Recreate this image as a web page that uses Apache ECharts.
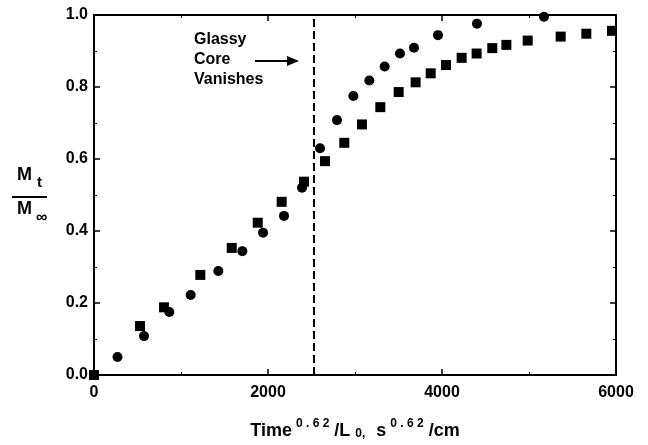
<!DOCTYPE html>
<html>
<head>
<meta charset="utf-8">
<script src="https://cdn.jsdelivr.net/npm/echarts@6/dist/echarts.min.js"></script>
<style>
  html, body { margin: 0; padding: 0; background: #fff; }
  #main { width: 648px; height: 445px; }
</style>
</head>
<body>
<div id="main"></div>
<script>
// circles
var circleX = [270, 575, 866, 1111, 1429, 1705, 1943, 2184, 2391, 2598, 2793, 2981, 3165, 3341, 3517, 3678, 3954, 4402, 5172];
var circleY = [0.05, 0.108, 0.175, 0.222, 0.289, 0.344, 0.395, 0.442, 0.52, 0.63, 0.708, 0.775, 0.818, 0.857, 0.893, 0.909, 0.944, 0.976, 0.995];
// squares
var squareX = [0, 529, 805, 1222, 1583, 1882, 2157, 2414, 2655, 2877, 3080, 3291, 3502, 3697, 3870, 4046, 4226, 4398, 4578, 4740, 4985, 5364, 5659, 5954];
var squareY = [0, 0.136, 0.188, 0.278, 0.353, 0.423, 0.481, 0.537, 0.594, 0.645, 0.696, 0.744, 0.786, 0.813, 0.838, 0.861, 0.881, 0.893, 0.908, 0.917, 0.929, 0.94, 0.948, 0.956];
var coreVanishX = 2530;
var annotation = ['Glassy', 'Core', 'Vanishes'];

var font = 'Liberation Sans, Arial, Helvetica, sans-serif';

function pairs(xs, ys) {
  return xs.map(function (x, i) { return [x, ys[i]]; });
}

// fresh objects for every axis
function frame(extra) {
  var ax = {
    type: 'value',
    axisLine: { show: true, onZero: false, lineStyle: { color: '#000', width: 2 } },
    axisTick: { show: true, inside: true, length: 6, lineStyle: { color: '#000', width: 1.5 } },
    minorTick: { show: true, splitNumber: 2, length: 3, lineStyle: { color: '#000', width: 1 } },
    splitLine: { show: false },
    minorSplitLine: { show: false }
  };
  for (var k in extra) ax[k] = extra[k];
  return ax;
}

var option = {
  animation: false,
  textStyle: { fontFamily: font },
  grid: { left: 94, right: 32, top: 15, bottom: 70 },
  xAxis: [
    frame({
      min: 0, max: 6000, interval: 2000,
      axisLabel: {
        margin: 10, fontSize: 16, fontWeight: 'bold', color: '#000', fontFamily: font,
        formatter: function (v) { return String(v); }
      }
    }),
    frame({ position: 'top', min: 0, max: 6000, interval: 2000, axisLabel: { show: false } })
  ],
  yAxis: [
    frame({
      min: 0, max: 1, interval: 0.2,
      axisLabel: {
        margin: 6, fontSize: 16, fontWeight: 'bold', color: '#000', fontFamily: font,
        formatter: function (v) { return v.toFixed(1); }
      }
    }),
    frame({ position: 'right', min: 0, max: 1, interval: 0.2, axisLabel: { show: false } })
  ],
  series: [
    {
      type: 'scatter', symbol: 'circle', symbolSize: 10, clip: false,
      itemStyle: { color: '#000', opacity: 1 },
      data: pairs(circleX, circleY),
      markLine: {
        silent: true, symbol: 'none', label: { show: false },
        lineStyle: { color: '#000', width: 2, type: [8, 4] },
        data: [{ xAxis: coreVanishX }]
      }
    },
    {
      type: 'scatter', symbol: 'rect', symbolSize: 10, clip: false,
      itemStyle: { color: '#000', opacity: 1 },
      data: pairs(squareX, squareY)
    }
  ],
  graphic: [
    {
      type: 'text', left: 194, top: 30,
      style: {
        text: annotation.join('\n'), font: 'bold 16px ' + font, lineHeight: 20, fill: '#000'
      }
    },
    {
      type: 'line', shape: { x1: 255, y1: 61, x2: 289, y2: 61 },
      style: { stroke: '#000', lineWidth: 2 }
    },
    {
      type: 'polygon', shape: { points: [[287, 56], [299, 61], [287, 66]] },
      style: { fill: '#000' }
    },
    // y axis name as a fraction
    {
      type: 'text', x: 17, y: 166,
      style: { text: 'M', font: 'bold 18px ' + font, fill: '#000' }
    },
    {
      type: 'text', x: 37, y: 175,
      style: { text: 't', font: 'bold 15px ' + font, fill: '#000' }
    },
    {
      type: 'line', shape: { x1: 12, y1: 197, x2: 47, y2: 197 },
      style: { stroke: '#000', lineWidth: 2 }
    },
    {
      type: 'text', x: 17, y: 200,
      style: { text: 'M', font: 'bold 18px ' + font, fill: '#000' }
    },
    {
      type: 'text', x: 36, y: 210,
      style: { text: '\u221e', font: 'bold 16px ' + font, fill: '#000' }
    },
    // x axis name
    {
      type: 'text', x: 355, y: 418,
      style: {
        text: '{b|Time}{sup|0 . 6 2}{b|/L}{sub|0,}{b| s}{sup|0 . 6 2}{b|/cm}',
        align: 'center',
        rich: {
          b: { font: 'bold 18px ' + font, fill: '#000', lineHeight: 22, verticalAlign: 'bottom' },
          sup: { font: 'bold 12px ' + font, fill: '#000', lineHeight: 22, verticalAlign: 'top', padding: [0, 5, 0, 4] },
          sub: { font: 'bold 12px ' + font, fill: '#000', lineHeight: 22, verticalAlign: 'bottom', padding: [6, 6, 0, 5] }
        }
      }
    }
  ]
};

var myChart = echarts.init(document.getElementById('main'), null, { renderer: 'canvas' });
myChart.setOption(option);
</script>
</body>
</html>
